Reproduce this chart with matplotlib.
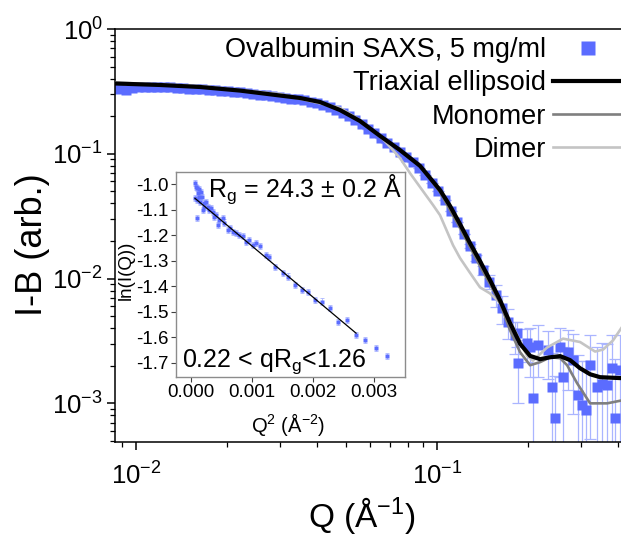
import matplotlib
matplotlib.use('Agg')
import matplotlib.pyplot as plt
from matplotlib.ticker import NullFormatter, FixedLocator, FormatStrFormatter

plt.rcParams['font.family'] = ['Liberation Sans', 'DejaVu Sans']
plt.rcParams['mathtext.fontset'] = 'custom'
plt.rcParams['mathtext.rm'] = 'Liberation Sans'
plt.rcParams['mathtext.it'] = 'Liberation Sans:italic'
plt.rcParams['axes.unicode_minus'] = False

# SAXS data, Q (1/A) and I-B (arb.)
q_data = [0.0088, 0.00924, 0.0097, 0.01019, 0.0107, 0.01123, 0.01179, 0.01238, 0.0130, 0.01365,
          0.01433, 0.01505, 0.0158, 0.01659, 0.01742, 0.01829, 0.0192, 0.02016, 0.02117, 0.02223,
          0.02334, 0.02451, 0.02574, 0.02702, 0.02837, 0.02979, 0.03128, 0.03285, 0.03449, 0.03621,
          0.03802, 0.03992, 0.04192, 0.04402, 0.04622, 0.04853, 0.05096, 0.0535, 0.05618, 0.05899,
          0.06194, 0.06503, 0.06829, 0.0717, 0.07528, 0.07905, 0.083, 0.08715, 0.09151, 0.09608,
          0.10089, 0.10593, 0.11123, 0.11679, 0.12263, 0.12876, 0.1352, 0.14196, 0.14906, 0.15651,
          0.16434, 0.17255, 0.18118,
          0.1845, 0.1859, 0.1991, 0.2037, 0.2084, 0.2165, 0.2338, 0.241, 0.2466, 0.2563,
          0.2621, 0.2724, 0.2831, 0.2941, 0.3032, 0.3126, 0.3224, 0.340, 0.3533, 0.3671,
          0.3814, 0.3903, 0.4055]
i_data = [0.330, 0.324, 0.336, 0.343, 0.346, 0.346, 0.343, 0.343, 0.340, 0.336,
          0.336, 0.333, 0.330, 0.330, 0.327, 0.324, 0.321, 0.318, 0.315, 0.312,
          0.307, 0.304, 0.298, 0.296, 0.290, 0.285, 0.282, 0.277, 0.275, 0.270,
          0.262, 0.255, 0.246, 0.237, 0.224, 0.212, 0.201, 0.186, 0.173, 0.159,
          0.147, 0.134, 0.123, 0.113, 0.104, 0.094, 0.086, 0.0775, 0.0675, 0.0587,
          0.0507, 0.0425, 0.0347, 0.0283, 0.0227, 0.0182, 0.0146, 0.0117, 0.0094, 0.0074,
          0.0058, 0.0045, 0.0035,
          0.00365, 0.0021, 0.00303, 0.00282, 0.0011, 0.00292, 0.00267, 0.00135, 0.00076, 0.00282,
          0.00162, 0.00257, 0.00222, 0.00116, 0.00097, 0.00088, 0.00202, 0.00135, 0.00142, 0.0014,
          0.00191, 0.00076, 0.00184]
err_data = [0.0] * 55 + [0.0006, 0.0008, 0.001, 0.0012, 0.0015, 0.0015, 0.0012, 0.001,
                         0.0008, 0.0011, 0.0009, 0.0012, 0.001, 0.0013, 0.0011, 0.0012, 0.0009, 0.0012,
                         0.0012, 0.0013, 0.0014, 0.0013, 0.0012, 0.0013, 0.0015, 0.0015, 0.0016, 0.0016,
                         0.0016, 0.0015, 0.0017]

# model curves
q_tri = [0.00852, 0.01201, 0.01632, 0.02216, 0.03009, 0.03506, 0.04086, 0.04762, 0.05548, 0.06466,
         0.07535, 0.0878, 0.1023, 0.1105, 0.1192, 0.1287, 0.1389, 0.1500, 0.1619, 0.1747,
         0.1887, 0.2037, 0.2199, 0.2374, 0.2563, 0.2766, 0.2986, 0.3224, 0.348, 0.4145]
i_tri = [0.366, 0.356, 0.343, 0.321, 0.293, 0.280, 0.260, 0.224, 0.183, 0.139,
         0.107, 0.080, 0.0512, 0.0381, 0.0273, 0.0192, 0.0138, 0.0097, 0.0067, 0.0044,
         0.0030, 0.0024, 0.00226, 0.00234, 0.00239, 0.00222, 0.00191, 0.00171, 0.00162, 0.00159]

q_mono = [0.00852, 0.01201, 0.01632, 0.02216, 0.03009, 0.03506, 0.04086, 0.04762, 0.05548, 0.06466,
          0.07535, 0.0878, 0.1023, 0.1192, 0.1389, 0.1500, 0.1619, 0.1747, 0.1887, 0.2037,
          0.2199, 0.2374, 0.2563, 0.2704, 0.2918, 0.3224, 0.3671, 0.4145]
i_mono = [0.366, 0.356, 0.343, 0.321, 0.293, 0.280, 0.260, 0.224, 0.183, 0.139,
          0.107, 0.080, 0.0493, 0.0254, 0.0126, 0.0090, 0.00635, 0.00386, 0.00257, 0.00202,
          0.00214, 0.00234, 0.0023, 0.00202, 0.00145, 0.0010, 0.0010, 0.00106]

q_dim = [0.00852, 0.01632, 0.03009, 0.04762, 0.05548, 0.0662, 0.07535, 0.0813, 0.0878, 0.0970,
         0.1023, 0.1130, 0.1192, 0.1287, 0.1389, 0.1500, 0.1619, 0.1789, 0.1991, 0.2084,
         0.2319, 0.2621, 0.2986, 0.3348, 0.356, 0.3843, 0.4145]
i_dim = [0.372, 0.349, 0.301, 0.233, 0.186, 0.131, 0.0923, 0.070, 0.0541, 0.0388,
         0.0322, 0.0185, 0.0146, 0.0111, 0.0085, 0.0076, 0.0064, 0.0041, 0.0024, 0.0022,
         0.0028, 0.0033, 0.0031, 0.0026, 0.0027, 0.0032, 0.0042]

# Guinier inset: Q^2 and ln(I)
q2_in = [0.000075, 0.00008, 0.000098, 0.00011, 0.00012, 0.00013, 0.000141, 0.00015, 0.000075, 0.000169,
         0.00018, 0.000098, 0.000197, 0.00021, 0.000223, 0.00025, 0.000279, 0.0003, 0.000333, 0.00036,
         0.00039, 0.000415, 0.000452, 0.000469, 0.000525, 0.00055, 0.000607, 0.00065, 0.000689, 0.00075,
         0.000797, 0.000862, 0.000907, 0.00096, 0.001016, 0.00107, 0.001136, 0.001234, 0.00129, 0.001382,
         0.001518, 0.0016, 0.00171, 0.00182, 0.00193, 0.00204, 0.002147, 0.002284, 0.00242, 0.002557,
         0.00271, 0.002857, 0.003038, 0.003213]
ln_in = [-0.996, -1.01, -1.016, -1.06, -1.035, -1.02, -1.049, -1.07, -1.055, -1.029,
         -1.05, -1.133, -1.101, -1.09, -1.075, -1.07, -1.088, -1.10, -1.094, -1.11,
         -1.13, -1.120, -1.16, -1.140, -1.133, -1.15, -1.179, -1.17, -1.186, -1.19,
         -1.199, -1.203, -1.225, -1.22, -1.238, -1.231, -1.242, -1.277, -1.284, -1.323,
         -1.349, -1.362, -1.395, -1.415, -1.421, -1.454, -1.46, -1.486, -1.539, -1.532,
         -1.591, -1.611, -1.643, -1.673]
q2_fit = [0.00007, 0.00271]
ln_fit = [-1.055, -1.584]

blue = '#5b6cff'
light_blue = '#aab5ff'

fig = plt.figure(figsize=(6.21, 5.40), dpi=100)
ax = fig.add_axes([115 / 621, (540 - 442) / 540, (623 - 115) / 621, (442 - 29) / 540])
ax.set_xscale('log')
ax.set_yscale('log')

ax.errorbar(q_data, i_data, yerr=err_data, fmt='none', ecolor=light_blue,
            elinewidth=0.9, capsize=4, capthick=0.9, zorder=1)
h_data, = ax.plot(q_data, i_data, 's', color=blue, ms=6.6, mec='none', zorder=2)
h_dim, = ax.plot(q_dim, i_dim, color='#c4c4c4', lw=1.9, zorder=3)
h_mono, = ax.plot(q_mono, i_mono, color='#7f7f7f', lw=1.9, zorder=4)
h_tri, = ax.plot(q_tri, i_tri, color='black', lw=3, zorder=5)

ax.set_xlim(0.00852, 0.4145)
ax.set_ylim(4.9e-4, 1.0)
ax.xaxis.set_minor_formatter(NullFormatter())
ax.yaxis.set_minor_formatter(NullFormatter())
ax.tick_params(which='major', direction='out', length=5.8, width=1.1, labelsize=18.5)
ax.tick_params(which='minor', direction='out', length=3.6, width=0.9)
ax.tick_params(axis='x', pad=9)
ax.tick_params(axis='y', pad=3)
for s in ['left', 'bottom', 'top']:
    ax.spines[s].set_linewidth(1.1)
ax.spines['right'].set_visible(False)

ax.set_ylabel('I-B (arb.)', fontsize=26)
ax.yaxis.set_label_coords((32 - 115) / 508, (442 - 245) / 413)
ax.yaxis.label.set_va('center')
ax.set_xlabel('Q (Å$^\\mathregular{-1}$)', fontsize=24)
ax.xaxis.set_label_coords((362 - 115) / 508, (442 - 516) / 413)
ax.xaxis.label.set_va('center')

leg = ax.legend([h_data, h_tri, h_mono, h_dim],
                ['Ovalbumin SAXS, 5 mg/ml', 'Triaxial ellipsoid', 'Monomer', 'Dimer'],
                loc='upper right', bbox_to_anchor=(623 / 621, 1 - 37 / 540),
                bbox_transform=fig.transFigure, frameon=False, markerfirst=False,
                fontsize=19.5, handlelength=2.6, handletextpad=0.25, labelspacing=0.27,
                borderpad=0, borderaxespad=0, numpoints=1, markerscale=1.5)

# inset
axin = fig.add_axes([176 / 621, (540 - 376.7) / 540, (405 - 176) / 621, (376.7 - 171.7) / 540])
axin.errorbar(q2_in, ln_in, yerr=0.012, fmt='none', ecolor=light_blue, elinewidth=0.6,
              capsize=1.5, capthick=0.6, zorder=1)
axin.plot(q2_in, ln_in, 's', color=blue, ms=3.4, mec='none', zorder=2)
axin.plot(q2_fit, ln_fit, color='black', lw=0.9, zorder=3)
axin.set_xlim(-0.000241, 0.003513)
axin.set_ylim(-1.7549, -0.9506)
axin.xaxis.set_major_locator(FixedLocator([0.0, 0.001, 0.002, 0.003]))
axin.xaxis.set_major_formatter(FormatStrFormatter('%.3f'))
axin.yaxis.set_major_locator(FixedLocator([-1.7, -1.6, -1.5, -1.4, -1.3, -1.2, -1.1, -1.0]))
axin.yaxis.set_major_formatter(FormatStrFormatter('%.1f'))
axin.tick_params(direction='out', length=3.5, width=0.8, labelsize=13.5, pad=2,
                 color='#404040')
for s in axin.spines.values():
    s.set_color('#8c8c8c')
    s.set_linewidth(1.0)
axin.set_xlabel('Q$^\\mathregular{2}$ (Å$^\\mathregular{-2}$)', fontsize=14.5)
axin.xaxis.set_label_coords((288 - 176) / 229, (376.7 - 424) / 205)
axin.xaxis.label.set_va('center')
axin.set_ylabel('ln(I(Q))', fontsize=13.5)
axin.yaxis.set_label_coords((126 - 176) / 229, (376.7 - 270) / 205)
axin.yaxis.label.set_va('center')
axin.text((208 - 176) / 229, (376.7 - 197) / 205, 'R$_\\mathregular{g}$ = 24.3 ± 0.2 Å',
          transform=axin.transAxes, ha='left', va='baseline', fontsize=18)
axin.text((182 - 176) / 229, (376.7 - 367) / 205, '0.22 < qR$_\\mathregular{g}$<1.26',
          transform=axin.transAxes, ha='left', va='baseline', fontsize=18)

fig.savefig('out.png', dpi=100)
